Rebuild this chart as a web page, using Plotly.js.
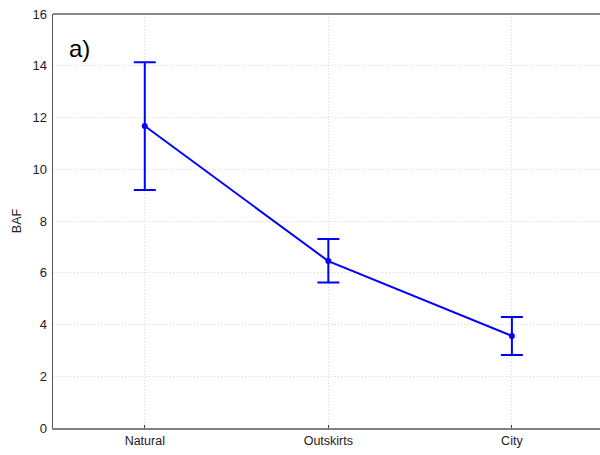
<!DOCTYPE html>
<html>
<head>
<meta charset="utf-8">
<script src="https://cdn.plot.ly/plotly-3.0.1.min.js"></script>
<style>html,body{margin:0;padding:0;background:#fff;}#chart{width:600px;height:455px;}</style>
</head>
<body>
<div id="chart"></div>
<script>
var categories = ["Natural", "Outskirts", "City"];
var meanBAF = [11.67, 6.45, 3.56];
var upperBAF = [14.14, 7.30, 4.29];
var lowerBAF = [9.20, 5.62, 2.82];
var yTicks = [0, 2, 4, 6, 8, 10, 12, 14, 16];

var errPlus = meanBAF.map(function (m, i) { return upperBAF[i] - m; });
var errMinus = meanBAF.map(function (m, i) { return m - lowerBAF[i]; });
var xIdx = categories.map(function (c, i) { return i; });

var trace = {
  x: xIdx,
  y: meanBAF,
  type: "scatter",
  mode: "lines+markers",
  line: { color: "#0000ff", width: 2 },
  marker: { color: "#0000ff", size: 6 },
  error_y: {
    type: "data",
    symmetric: false,
    array: errPlus,
    arrayminus: errMinus,
    color: "#0000ff",
    thickness: 2,
    width: 11
  },
  showlegend: false,
  hoverinfo: "skip"
};

var layout = {
  width: 600,
  height: 455,
  margin: { l: 53, r: 0, t: 14, b: 27 },
  paper_bgcolor: "#ffffff",
  plot_bgcolor: "#ffffff",
  font: { family: "Liberation Sans, Arial, sans-serif", size: 13, color: "#222" },
  xaxis: {
    range: [-0.5, 2.48],
    tickmode: "array",
    tickvals: xIdx,
    ticktext: categories,
    ticks: "inside",
    ticklen: 3,
    tickcolor: "#444",
    showgrid: true,
    gridcolor: "#dadada",
    griddash: "1px,2px",
    gridwidth: 1,
    showline: true,
    linecolor: "#808080",
    linewidth: 2,
    zeroline: false,
    tickfont: { size: 12.5 },
    fixedrange: true
  },
  yaxis: {
    range: [0, 16],
    tickmode: "array",
    tickvals: yTicks,
    ticks: "outside",
    ticklen: 2,
    tickcolor: "#ffffff",
    showgrid: true,
    gridcolor: "#dadada",
    griddash: "1px,2px",
    gridwidth: 1,
    showline: true,
    linecolor: "#555555",
    linewidth: 1.5,
    zeroline: false,
    tickfont: { size: 13 },
    title: { text: "BAF", font: { size: 12.5 }, standoff: 8 },
    automargin: false,
    fixedrange: true
  },
  shapes: [
    { type: "line", xref: "paper", yref: "paper", x0: 0, x1: 1, y0: 1, y1: 1,
      line: { color: "#888888", width: 2 } }
  ],
  annotations: [
    { text: "a)", xref: "paper", yref: "paper", x: 0.025, y: 0.955,
      xanchor: "left", yanchor: "top", showarrow: false,
      font: { size: 24, color: "#000" } }
  ]
};

Plotly.newPlot("chart", [trace], layout, { displayModeBar: false, staticPlot: true });
</script>
</body>
</html>
